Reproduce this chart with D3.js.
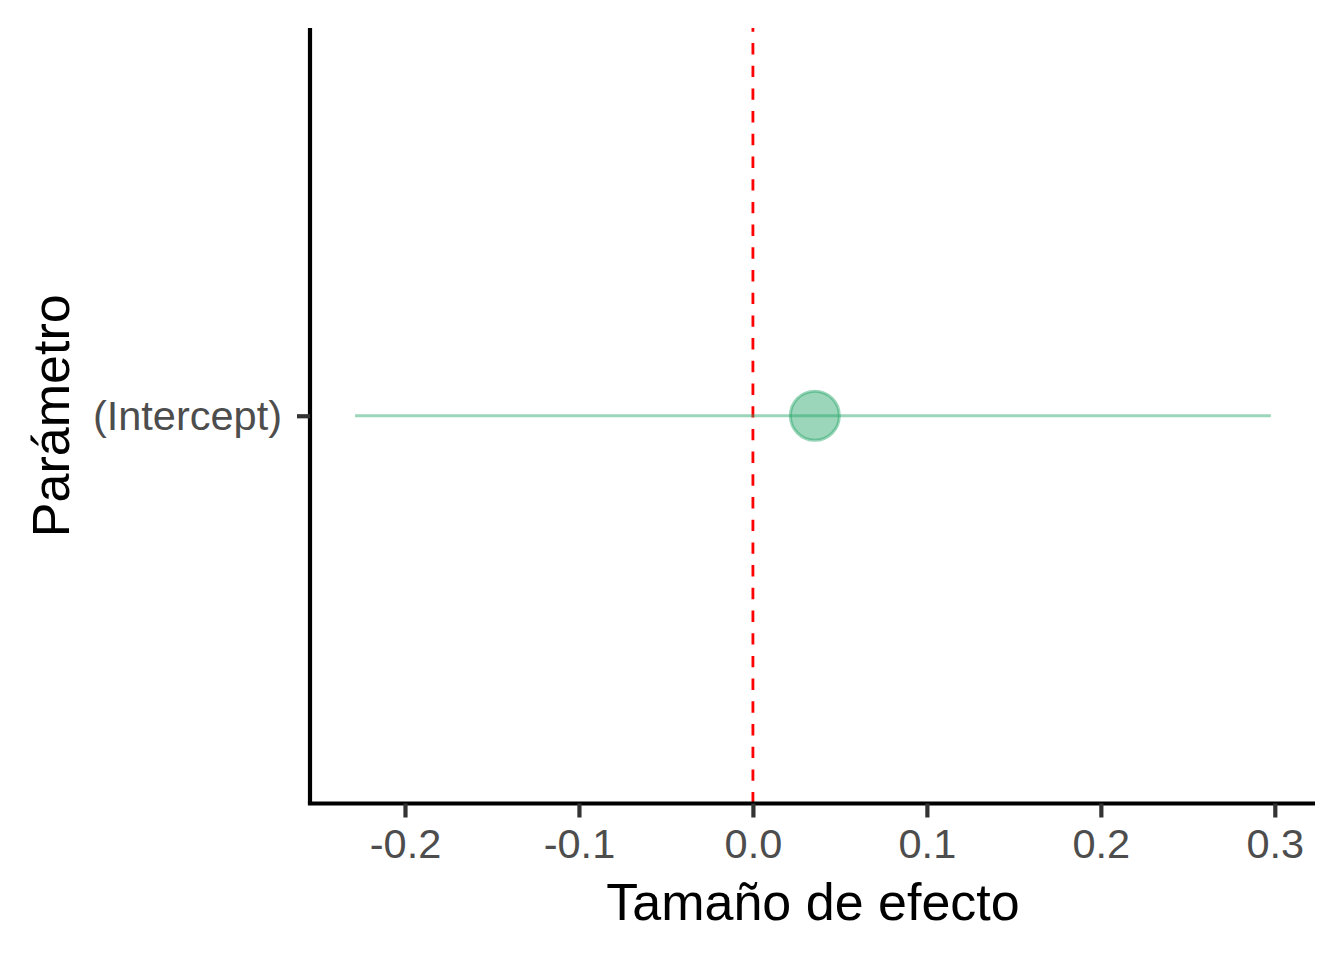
<!DOCTYPE html>
<html><head><meta charset="utf-8">
<script src="https://cdn.jsdelivr.net/npm/d3@7"></script>
<style>body{margin:0;background:#fff}</style>
</head><body>
<svg id="c" width="1344" height="960"></svg>
<script>
const params = ["(Intercept)"];
const estimates = [0.0356];
const lower = [-0.2287];
const upper = [0.2977];
const xTicks = [-0.2, -0.1, 0.0, 0.1, 0.2, 0.3];
const xTickLabels = ["-0.2", "-0.1", "0.0", "0.1", "0.2", "0.3"];
const xTitle = "Tamaño de efecto";
const yTitle = "Parámetro";

const svg = d3.select("#c");
const L = 310, R = 1315, T = 28, B = 803.5;
const x = d3.scaleLinear().domain([-0.2546, 0.3231]).range([L, R]);
const y = d3.scalePoint().domain(params).range([B, T]).padding(0.5);
const col = "#21a366";
const font = "Liberation Sans, Arial, sans-serif";

// zero line (drawn bottom to top, like ggplot)
svg.append("line").attr("x1", x(0)).attr("x2", x(0)).attr("y1", B).attr("y2", T)
  .attr("stroke", "red").attr("stroke-width", 2.8).attr("stroke-dasharray", "11.4,11.3");

// intervals
svg.selectAll(".ci").data(params).join("line")
  .attr("x1", (d,i) => x(lower[i])).attr("x2", (d,i) => x(upper[i]))
  .attr("y1", d => y(d)).attr("y2", d => y(d))
  .attr("stroke", col).attr("stroke-opacity", 0.45).attr("stroke-width", 2.8);

svg.selectAll(".pt").data(params).join("circle")
  .attr("cx", (d,i) => x(estimates[i])).attr("cy", d => y(d)).attr("r", 24.5)
  .attr("fill", col).attr("fill-opacity", 0.45)
  .attr("stroke", col).attr("stroke-opacity", 0.45).attr("stroke-width", 3);

// axes
const xa = svg.append("g").attr("transform", `translate(0,${B})`)
  .call(d3.axisBottom(x).tickValues(xTicks).tickFormat((d,i) => xTickLabels[i]).tickSize(14).tickPadding(11).tickSizeOuter(0));
const ya = svg.append("g").attr("transform", `translate(${L},0)`)
  .call(d3.axisLeft(y).tickSize(13).tickPadding(15).tickSizeOuter(0));
[xa, ya].forEach(g => {
  g.select(".domain").attr("stroke", "#000").attr("stroke-width", 4.2);
  g.selectAll(".tick line").attr("stroke", "#333").attr("stroke-width", 4.2);
  g.selectAll(".tick text").attr("fill", "#4d4d4d").attr("font-family", font).attr("font-size", 41.5);
});
xa.select(".domain").attr("d", `M${L-2.1},0H${R}`);
ya.select(".domain").attr("d", `M0,${T}V${B}`);

svg.append("text").attr("x", 813).attr("y", 920).attr("text-anchor", "middle")
  .attr("font-family", font).attr("font-size", 52).attr("fill", "#000").text(xTitle);
svg.append("text").attr("transform", `translate(69,${(T+B)/2}) rotate(-90)`).attr("text-anchor", "middle")
  .attr("font-family", font).attr("font-size", 52).attr("fill", "#000").text(yTitle);
</script>
</body></html>
